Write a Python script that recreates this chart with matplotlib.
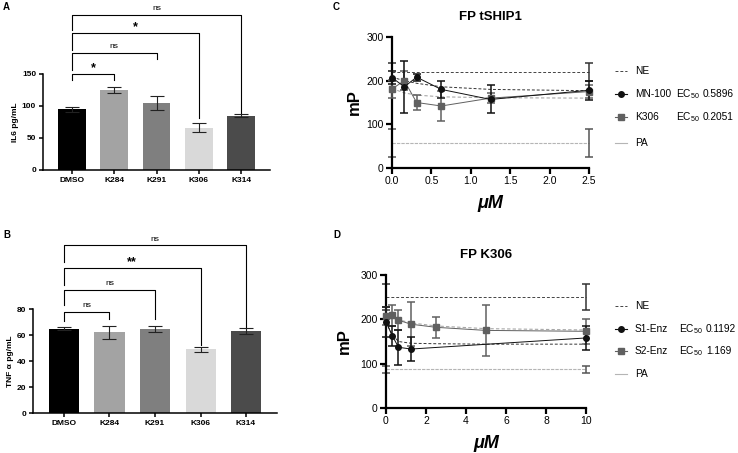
import numpy as np
import matplotlib
matplotlib.use('Agg')
import matplotlib.pyplot as plt
from matplotlib.lines import Line2D

plt.rcParams['font.family'] = ['Liberation Sans', 'DejaVu Sans']
plt.rcParams['mathtext.fontset'] = 'custom'
plt.rcParams['mathtext.rm'] = 'Liberation Sans'
plt.rcParams['mathtext.it'] = 'Liberation Sans:italic'
plt.rcParams['mathtext.bf'] = 'Liberation Sans:bold'

# ---- bar panels (A, B) ----
groups = ['DMSO', 'K284', 'K291', 'K306', 'K314']
bar_colors = ['#000000', '#a3a3a3', '#7f7f7f', '#d9d9d9', '#4b4b4b']

il6 = [95, 125, 104, 66, 85]
il6_err = [4, 5, 11, 7, 2]
il6_targets = [1, 2, 3, 4]
il6_labels = ['*', 'ns', '*', 'ns']
il6_heights = [150, 183, 214, 242]
il6_left_end = [141, 156, 187, 219]
il6_right_end = [141, 174, 81, 89]

tnf = [65, 62, 64.5, 49, 63]
tnf_err = [1.5, 5, 2.5, 2, 2.5]
tnf_targets = [1, 2, 3, 4]
tnf_labels = ['ns', 'ns', '**', 'ns']
tnf_heights = [78, 94.6, 111.5, 129]
tnf_left_end = [71, 83, 98.5, 116]
tnf_right_end = [72, 72, 52, 66]

# ---- FP tSHIP1 (C) ----
conc_c = [0, 0.156, 0.3125, 0.625, 1.25, 2.5]
mn100 = [207, 186, 208, 180, 157, 178]
mn100_err = [15, 60, 8, 20, 32, 22]
k306 = [181, 200, 150, 142, 160, 175]
k306_err = [20, 22, 17, 35, 12, 15]
mn100_fit = [208, 200, 194, 186, 180, 177]
k306_fit = [182, 172, 167, 163, 161, 160]
ne_c, ne_c_err = 220, 20
pa_c, pa_c_err = 58, 32

# ---- FP K306 (D) ----
conc_s1 = [0, 0.3125, 0.625, 1.25, 10]
s1 = [194, 163, 137, 133, 158]
s1_err = [33, 23, 40, 27, 28]
conc_s2 = [0, 0.3125, 0.625, 1.25, 2.5, 5, 10]
s2 = [207, 209, 198, 189, 182, 175, 173]
s2_err = [20, 24, 23, 50, 24, 57, 28]
fit_x_d = [0, 0.3125, 0.625, 1.25, 2.5, 5, 10]
s1_fit = [194, 165, 150, 146, 145, 144, 144]
s2_fit = [207, 203, 199, 192, 185, 179, 176]
ne_d, ne_d_err = 250, 30
pa_d, pa_d_err = 87, 8

W, H = 738, 453
fig = plt.figure(figsize=(W / 100, H / 100), dpi=100)


def fr(x0, y_bottom, x1, y_top):
    # pixel box -> figure fraction rect
    return [x0 / W, 1 - y_bottom / H, (x1 - x0) / W, (y_bottom - y_top) / H]


def bar_panel(rect, vals, errs, ytop, yticks, ylabel, targets, labels, heights, lends, rends):
    ax = fig.add_axes(rect)
    x = np.arange(len(groups))
    ax.bar(x, vals, width=0.66, color=bar_colors, zorder=2)
    ax.errorbar(x, vals, yerr=errs, fmt='none', ecolor='#222222', elinewidth=0.8,
                capsize=5, capthick=0.8, zorder=3)
    ax.set_xlim(-0.68, 4.68)
    ax.set_ylim(0, ytop)
    ax.set_yticks(yticks)
    ax.set_xticks(x)
    ax.set_xticklabels(groups, fontweight='bold', fontsize=6)
    for t in ax.get_yticklabels():
        t.set_fontweight('bold')
        t.set_fontsize(6)
    ax.set_ylabel(ylabel, fontweight='bold', fontsize=6, labelpad=2)
    for s in ['top', 'right']:
        ax.spines[s].set_visible(False)
    for s in ['left', 'bottom']:
        ax.spines[s].set_linewidth(1.1)
    ax.tick_params(width=1.1, length=3, pad=2)
    for t, lab, h, le, re in zip(targets, labels, heights, lends, rends):
        ax.plot([0, 0, t, t], [le, h, h, re], color='black', lw=0.8, clip_on=False)
        if lab == 'ns':
            ax.annotate(lab, (t / 2, h), xytext=(0, 2), textcoords='offset points',
                        ha='center', va='bottom', fontsize=6, annotation_clip=False)
        else:
            ax.annotate(lab, (t / 2, h), xytext=(0, 0), textcoords='offset points',
                        ha='center', va='bottom', fontsize=9, fontweight='bold',
                        annotation_clip=False)
    return ax


bar_panel(fr(43, 170, 270, 74), il6, il6_err, 150, [0, 50, 100, 150], 'IL6 pg/mL',
          il6_targets, il6_labels, il6_heights, il6_left_end, il6_right_end)
bar_panel(fr(33, 413, 277, 309), tnf, tnf_err, 80, [0, 20, 40, 60, 80], 'TNF α pg/mL',
          tnf_targets, tnf_labels, tnf_heights, tnf_left_end, tnf_right_end)

dark = '#111111'
gray = '#606060'
light = '#b5b5b5'
ne_col = '#444444'


def fp_panel(rect, title, xmax, xticks, xticklabels, s_a, s_b, fit_x, fit_a, fit_b,
             ne, ne_err, pa, pa_err, ylpad):
    ax = fig.add_axes(rect)
    ax.set_xlim(0, xmax)
    ax.set_ylim(0, 300)
    # NE / PA control lines with error bars at both ends
    ax.plot([0, xmax], [ne, ne], ls=(0, (3, 2)), color=ne_col, lw=0.7, clip_on=False)
    ax.errorbar([0, xmax], [ne, ne], yerr=ne_err, fmt='none', ecolor='#333333',
                elinewidth=1.1, capsize=3, capthick=1.1, clip_on=False)
    ax.plot([0, xmax], [pa, pa], ls=(0, (3, 1)), color=light, lw=0.8, clip_on=False)
    ax.errorbar([0, xmax], [pa, pa], yerr=pa_err, fmt='none', ecolor='#555555',
                elinewidth=1.1, capsize=3, capthick=1.1, clip_on=False)
    # fitted curves
    ax.plot(fit_x, fit_a, ls=(0, (3, 2)), color='#333333', lw=0.7, clip_on=False)
    ax.plot(fit_x, fit_b, ls=(0, (3, 2)), color='#a8a8a8', lw=0.8, clip_on=False)
    # data
    for (xs, ys, es, col, mk) in [s_b, s_a]:
        ax.errorbar(xs, ys, yerr=es, color=col, marker=mk, ms=4, lw=0.7,
                    elinewidth=1.1, capsize=3, capthick=1.1, clip_on=False, zorder=3)
    ax.set_xticks(xticks)
    ax.set_xticklabels(xticklabels, fontsize=7.5)
    ax.set_yticks([0, 100, 200, 300])
    ax.tick_params(axis='y', labelsize=7.5)
    for s in ['top', 'right']:
        ax.spines[s].set_visible(False)
    for s in ['left', 'bottom']:
        ax.spines[s].set_linewidth(1.6)
    ax.tick_params(width=1.6, length=4, pad=2)
    ax.set_title(title, fontweight='bold', fontsize=9.5, pad=12)
    ax.set_xlabel('μM', fontweight='bold', fontstyle='italic', fontsize=13, labelpad=6)
    ax.set_ylabel('mP', fontweight='bold', fontsize=12, labelpad=ylpad)
    return ax


fp_panel(fr(392, 168, 589, 37), 'FP tSHIP1', 2.5, [0, 0.5, 1.0, 1.5, 2.0, 2.5],
         ['0.0', '0.5', '1.0', '1.5', '2.0', '2.5'],
         (conc_c, mn100, mn100_err, dark, 'o'), (conc_c, k306, k306_err, gray, 's'),
         conc_c, mn100_fit, k306_fit, ne_c, ne_c_err, pa_c, pa_c_err, 3)
fp_panel(fr(386, 408, 586, 275), 'FP K306', 10, [0, 2, 4, 6, 8, 10],
         ['0', '2', '4', '6', '8', '10'],
         (conc_s1, s1, s1_err, dark, 'o'), (conc_s2, s2, s2_err, gray, 's'),
         fit_x_d, s1_fit, s2_fit, ne_d, ne_d_err, pa_d, pa_d_err, 6)


# ---- manual legends ----
def legend_row(y, kind, name, ec=None, ec_x=676, val_x=703):
    yy = 1 - y / H
    x0, x1 = 615 / W, 627 / W
    if kind == 'ne':
        fig.add_artist(Line2D([x0, x1], [yy, yy], transform=fig.transFigure,
                              color=ne_col, lw=0.7, ls=(0, (3, 2))))
    elif kind == 'pa':
        fig.add_artist(Line2D([x0, x1], [yy, yy], transform=fig.transFigure,
                              color=light, lw=0.8))
    else:
        col, mk = kind
        fig.add_artist(Line2D([x0, x1], [yy, yy], transform=fig.transFigure,
                              color=col, lw=0.8))
        fig.add_artist(Line2D([(x0 + x1) / 2], [yy], transform=fig.transFigure,
                              color=col, marker=mk, ms=4, lw=0))
    fig.text(635 / W, yy, name, fontsize=7.3, va='center', ha='left')
    if ec is not None:
        fig.text(ec_x / W, yy, r'EC$_{50}$', fontsize=7.3, va='center', ha='left')
        fig.text(val_x / W, yy, ec, fontsize=7.3, va='center', ha='left')


legend_row(71, 'ne', 'NE')
legend_row(94, (dark, 'o'), 'MN-100', '0.5896')
legend_row(117, (gray, 's'), 'K306', '0.2051')
legend_row(143, 'pa', 'PA')

legend_row(306, 'ne', 'NE')
legend_row(329, (dark, 'o'), 'S1-Enz', '0.1192', ec_x=679, val_x=706)
legend_row(351, (gray, 's'), 'S2-Enz', '1.169', ec_x=679, val_x=706)
legend_row(374, 'pa', 'PA')

# panel letters
for lab, (px, py) in zip(['A', 'B', 'C', 'D'], [(3, 7), (3, 235), (333, 7), (333, 235)]):
    fig.text(px / W, 1 - py / H, lab, fontsize=7, fontweight='bold', va='center', ha='left')

fig.savefig('out.png', dpi=100)
